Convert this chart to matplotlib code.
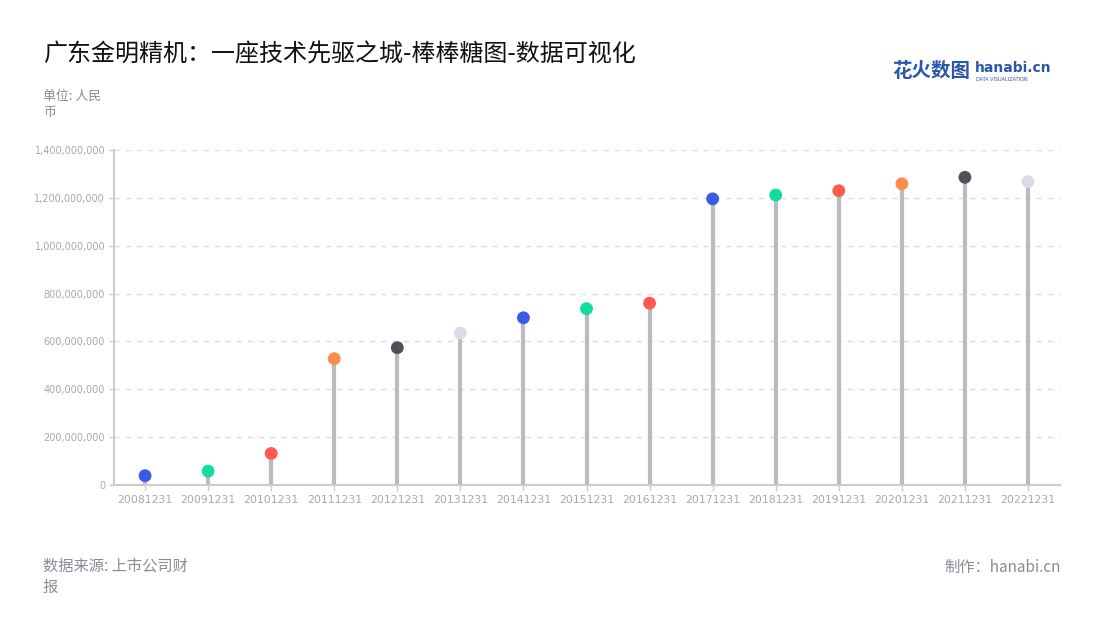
import matplotlib
matplotlib.use('Agg')
import matplotlib.pyplot as plt
from matplotlib.ticker import FuncFormatter

plt.rcParams['font.family'] = ['Noto Sans CJK SC', 'DejaVu Sans']

# 数据
dates = ['20081231', '20091231', '20101231', '20111231', '20121231',
         '20131231', '20141231', '20151231', '20161231', '20171231',
         '20181231', '20191231', '20201231', '20211231', '20221231']
values = [39e6, 58e6, 132e6, 528e6, 574e6,
          635e6, 699e6, 737e6, 760e6, 1196e6,
          1212e6, 1230e6, 1259e6, 1286e6, 1268e6]
dot_colors = ['#3A5BE8', '#10DCA0', '#FF5A50', '#FF8C4C', '#50505A',
              '#D8DCE6', '#3A5BE8', '#10DCA0', '#FF5A50', '#3A5BE8',
              '#10DCA0', '#FF5A50', '#FF8C4C', '#50505A', '#D8DCE6']
yticks = [0, 2e8, 4e8, 6e8, 8e8, 1e9, 1.2e9, 1.4e9]

fig = plt.figure(figsize=(11, 6.2), dpi=100)
ax = fig.add_axes([0.1032, 0.2177, 0.86, 0.5403])

x = range(len(dates))
ax.vlines(x, 0, values, color='#BBBBBB', linewidth=3, zorder=2)
ax.scatter(x, values, s=85, c=dot_colors, zorder=3, linewidths=0)

ax.set_xlim(-0.5, len(dates) - 0.5)
ax.set_ylim(0, 1.4e9)
ax.set_xticks(list(x))
ax.set_xticklabels(dates, fontsize=7.8, color='#A4A8B4', family='DejaVu Sans')
ax.set_yticks(yticks)
ax.yaxis.set_major_formatter(FuncFormatter(lambda v, p: f'{int(v):,}'))
for lab in ax.get_yticklabels():
    lab.set_fontsize(7)
    lab.set_color('#A4A8B4')
    lab.set_family('DejaVu Sans')

ax.grid(True, axis='y', linestyle=(0, (4, 4)), color='#DDDDDD', linewidth=1)
ax.set_axisbelow(True)
for s in ['top', 'right']:
    ax.spines[s].set_visible(False)
for s in ['left', 'bottom']:
    ax.spines[s].set_color('#CCCCCC')
    ax.spines[s].set_linewidth(1.5)
ax.tick_params(axis='y', length=3.5, color='#CCCCCC', width=1, pad=2.5)
ax.tick_params(axis='x', length=4, color='#CCCCCC', width=1, pad=3)

# 标题和说明文字
fig.text(0.039, 0.912, '广东金明精机：一座技术先驱之城-棒棒糖图-数据可视化',
         fontsize=17.3, color='#111111', va='center', ha='left')
fig.text(0.039, 0.832, '单位: 人民\n币', fontsize=9.3, color='#8A8A99',
         va='center', ha='left', linespacing=1.3)
fig.text(0.039, 0.07, '数据来源: 上市公司财\n报', fontsize=11, color='#8A8A99',
         va='center', ha='left', linespacing=1.35)
fig.text(0.964, 0.085, '制作：hanabi.cn', fontsize=11, color='#8A8A99',
         va='center', ha='right')

# logo
fig.text(0.811, 0.884, '花火数图', fontsize=14, color='#2B57A8',
         fontweight='bold', va='center', ha='left')
fig.text(0.886, 0.89, 'hanabi.cn', fontsize=10, color='#2B57A8',
         fontweight='bold', va='center', ha='left', family='DejaVu Sans')
fig.text(0.887, 0.872, 'DATA VISUALIZATION', fontsize=3.5, color='#2B57A8',
         va='center', ha='left', family='DejaVu Sans')

fig.savefig('out.png', dpi=100)
